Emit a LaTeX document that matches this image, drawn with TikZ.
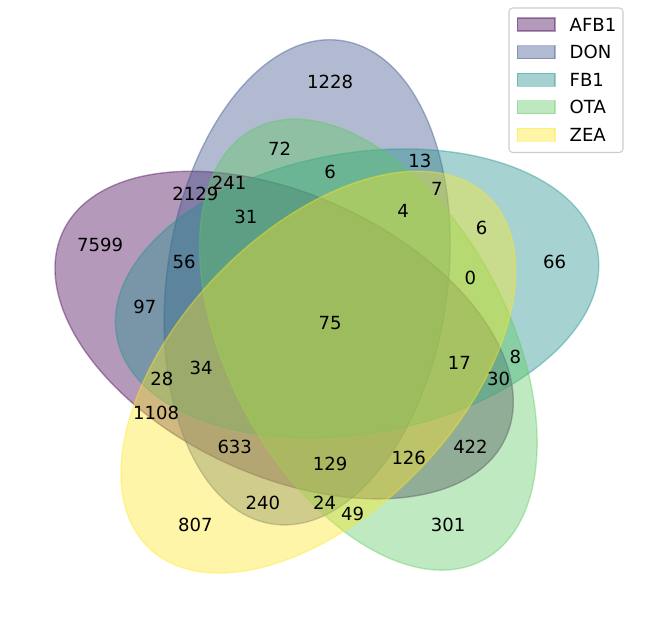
\documentclass[tikz,border=0pt]{standalone}
\usepackage{fontspec}
\setmainfont{DejaVu Sans}
\definecolor{cA}{RGB}{68,1,84}
\definecolor{cB}{RGB}{59,82,139}
\definecolor{cC}{RGB}{33,145,140}
\definecolor{cD}{RGB}{94,201,98}
\definecolor{cE}{RGB}{253,231,37}
\definecolor{frameedge}{RGB}{204,204,204}
\begin{document}
\begin{tikzpicture}[x=1pt,y=-1pt,
  lbl/.style={font=\fontsize{18.06}{21}\selectfont, inner sep=0pt, text=black},
  venn/.style={fill=#1, draw=#1, opacity=0.4, line width=1.39pt},
  legpatch/.style={fill=#1, draw=#1, opacity=0.4, line width=1.39pt}]
\useasboundingbox (0,0) rectangle (649,626);
\begin{scope}[shift={(43.9,587.1)}, x=561.3pt, y=561.3pt]
  \path[venn=cA, rotate around={155:(0.428,0.449)}] (0.428,0.449) ellipse [x radius=0.435, y radius=0.25];
  \path[venn=cB, rotate around={82:(0.469,0.543)}] (0.469,0.543) ellipse [x radius=0.435, y radius=0.25];
  \path[venn=cC, rotate around={10:(0.558,0.523)}] (0.558,0.523) ellipse [x radius=0.435, y radius=0.25];
  \path[venn=cD, rotate around={118:(0.578,0.432)}] (0.578,0.432) ellipse [x radius=0.435, y radius=0.25];
  \path[venn=cE, rotate around={46:(0.489,0.383)}] (0.489,0.383) ellipse [x radius=0.435, y radius=0.25];
  % petal labels
  \node[lbl] (p00001) at (0.27,0.11) {807};
  \node[lbl] (p00010) at (0.72,0.11) {301};
  \node[lbl] (p00011) at (0.55,0.13) {49};
  \node[lbl] (p00100) at (0.91,0.58) {66};
  \node[lbl] (p00101) at (0.78,0.64) {6};
  \node[lbl] (p00110) at (0.84,0.41) {8};
  \node[lbl] (p00111) at (0.76,0.55) {0};
  \node[lbl] (p01000) at (0.51,0.90) {1228};
  \node[lbl] (p01001) at (0.39,0.15) {240};
  \node[lbl] (p01010) at (0.42,0.78) {72};
  \node[lbl] (p01011) at (0.50,0.15) {24};
  \node[lbl] (p01100) at (0.67,0.76) {13};
  \node[lbl] (p01101) at (0.70,0.71) {7};
  \node[lbl] (p01110) at (0.51,0.74) {6};
  \node[lbl] (p01111) at (0.64,0.67) {4};
  \node[lbl] (p10000) at (0.10,0.61) {7599};
  \node[lbl] (p10001) at (0.20,0.31) {1108};
  \node[lbl] (p10010) at (0.76,0.25) {422};
  \node[lbl] (p10011) at (0.65,0.23) {126};
  \node[lbl] (p10100) at (0.18,0.50) {97};
  \node[lbl] (p10101) at (0.21,0.37) {28};
  \node[lbl] (p10110) at (0.81,0.37) {30};
  \node[lbl] (p10111) at (0.74,0.40) {17};
  \node[lbl] (p11000) at (0.27,0.70) {2129};
  \node[lbl] (p11001) at (0.34,0.25) {633};
  \node[lbl] (p11010) at (0.33,0.72) {241};
  \node[lbl] (p11011) at (0.51,0.22) {129};
  \node[lbl] (p11100) at (0.25,0.58) {56};
  \node[lbl] (p11101) at (0.28,0.39) {34};
  \node[lbl] (p11110) at (0.36,0.66) {31};
  \node[lbl] (p11111) at (0.51,0.47) {75};
\end{scope}
% legend
\draw[draw=frameedge, fill=white, fill opacity=0.8, line width=1.1pt, rounded corners=3.6pt] (509,8) rectangle (623,152.5);
\path[legpatch=cA] (517.3,18.0) rectangle (555,31.0);
\path[legpatch=cB] (517.3,45.6) rectangle (555,58.6);
\path[legpatch=cC] (517.3,73.2) rectangle (555,86.2);
\path[legpatch=cD] (517.3,100.8) rectangle (555,113.8);
\path[legpatch=cE] (517.3,128.4) rectangle (555,141.4);
\node[lbl, anchor=west] (lA) at (569.5,24.5) {AFB1};
\node[lbl, anchor=west] (lB) at (569.5,52.1) {DON};
\node[lbl, anchor=west] (lC) at (569.5,79.7) {FB1};
\node[lbl, anchor=west] (lD) at (569.5,107.3) {OTA};
\node[lbl, anchor=west] (lE) at (569.5,134.9) {ZEA};
\end{tikzpicture}
\end{document}
